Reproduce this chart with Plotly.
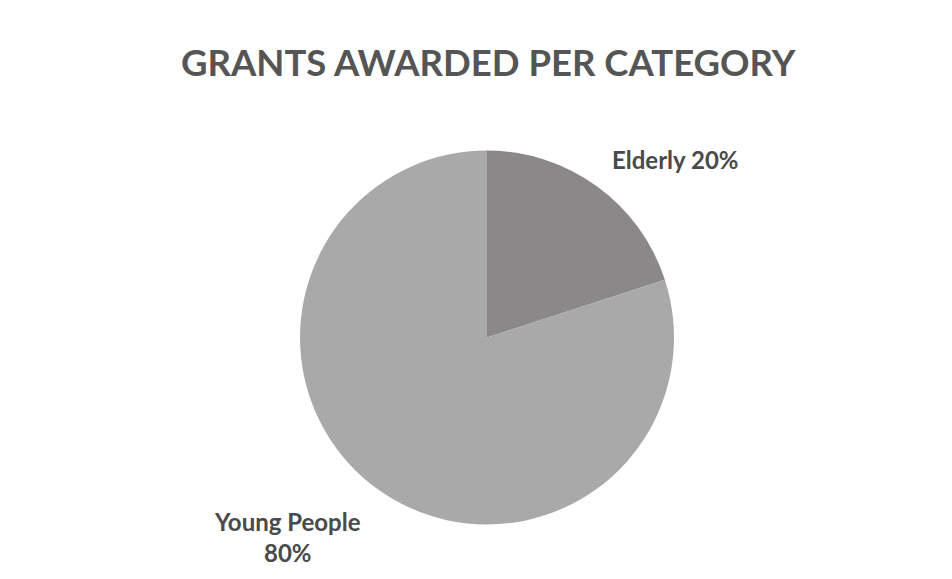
import plotly.graph_objects as go

title = "GRANTS AWARDED PER CATEGORY"
categories = ["Elderly", "Young People"]
values = [20, 80]
colors = ["#8a8888", "#a9a9a9"]
label_texts = ["Elderly 20%", "Young People<br>80%"]

W, H = 952, 579
OFF = 8  # page body margin offset
cx, cy, r = 487 - OFF, 337.5 - OFF, 187

fig = go.Figure(go.Pie(
    labels=categories,
    values=values,
    sort=False,
    direction="clockwise",
    rotation=0,
    marker=dict(colors=colors, line=dict(width=0)),
    textinfo="none",
    hoverinfo="label+percent",
    showlegend=False,
    domain=dict(x=[(cx - r) / W, (cx + r) / W], y=[1 - (cy + r) / H, 1 - (cy - r) / H]),
))

ann_pos = [(675, 160), (287, 537)]
for txt, (x, y) in zip(label_texts, ann_pos):
    fig.add_annotation(
        x=(x - OFF) / W, y=1 - (y - OFF) / H, xref="paper", yref="paper",
        xanchor="center", yanchor="middle",
        text=f"<b>{txt}</b>", showarrow=False,
        font=dict(family="Lato", size=24, color="#4a4a4a"),
        align="center",
    )

fig.add_annotation(
    x=(488 - OFF) / W, y=1 - (62 - OFF) / H, xref="paper", yref="paper",
    xanchor="center", yanchor="middle",
    text=f"<b>{title}</b>", showarrow=False,
    font=dict(family="Lato", size=36.5, color="#555555"),
)

fig.update_layout(
    width=W, height=H,
    margin=dict(l=0, r=0, t=0, b=0),
    paper_bgcolor="white", plot_bgcolor="white",
)

fig.write_html("out.html")
